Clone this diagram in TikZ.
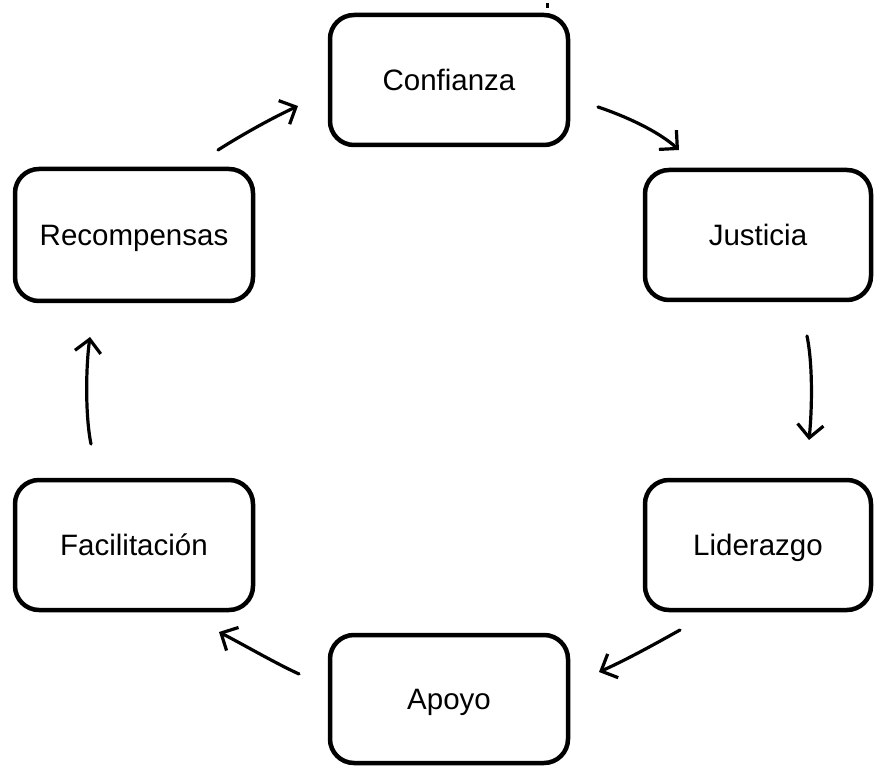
\documentclass[tikz,border=0pt]{standalone}
\usepackage{fontspec}
\setmainfont{Liberation Sans}
\usetikzlibrary{arrows.meta}

\tikzset{
  stage/.style={draw=black, line width=4.5pt, rounded corners=24pt,
    fill=white, minimum width=238pt, minimum height=130pt,
    text height=21pt, text depth=0pt, inner sep=0pt,
    font=\fontsize{29.5}{34}\selectfont},
  flow/.style={line width=3.2pt, line cap=round,
    -{Straight Barb[length=13pt, width=26pt, line width=3.2pt]}}
}

\begin{document}
\begin{tikzpicture}[x=1pt, y=-1pt]
  \useasboundingbox (0,0) rectangle (876,767);

  % the six stages of the cycle
  \node[stage] (conf) at (449,80)  {Confianza};
  \node[stage, minimum width=226pt] (just) at (758,235) {Justicia};
  \node[stage, minimum width=226pt] (lid)  at (758,545) {Liderazgo};
  \node[stage, minimum height=128pt] (apo)  at (449,699) {Apoyo};
  \node[stage] (fac)  at (134,545) {Facilitación};
  \node[stage, minimum height=132pt] (rec)  at (134,235) {Recompensas};

  % small stroke above the top box
  \fill[black] (545.5,3) rectangle (549,8);

  % free ends of the connecting arrows
  \coordinate (a1s) at (218,150);  \coordinate (a1e) at (298,106);
  \coordinate (a2s) at (598,107);  \coordinate (a2e) at (679,150);
  \coordinate (a3s) at (807,336);  \coordinate (a3e) at (809,440);
  \coordinate (a4s) at (680,630);  \coordinate (a4e) at (599,672);
  \coordinate (a5s) at (299,674);  \coordinate (a5e) at (219,632);
  \coordinate (a6s) at (91,444);   \coordinate (a6e) at (90,337);

  % clockwise flow between the stages
  \draw[flow] (a1s) .. controls (240,136) and (270,119) .. (a1e);
  \draw[flow] (a2s) .. controls (625,116) and (658,131) .. (a2e);
  \draw[flow] (a3s) .. controls (813,365) and (812,410) .. (a3e);
  \draw[flow] (a4s) .. controls (655,644) and (626,660) .. (a4e);
  \draw[flow] (a5s) .. controls (275,663) and (246,646) .. (a5e);
  \draw[flow] (a6s) .. controls (85,415) and (86,365) .. (a6e);
\end{tikzpicture}
\end{document}
